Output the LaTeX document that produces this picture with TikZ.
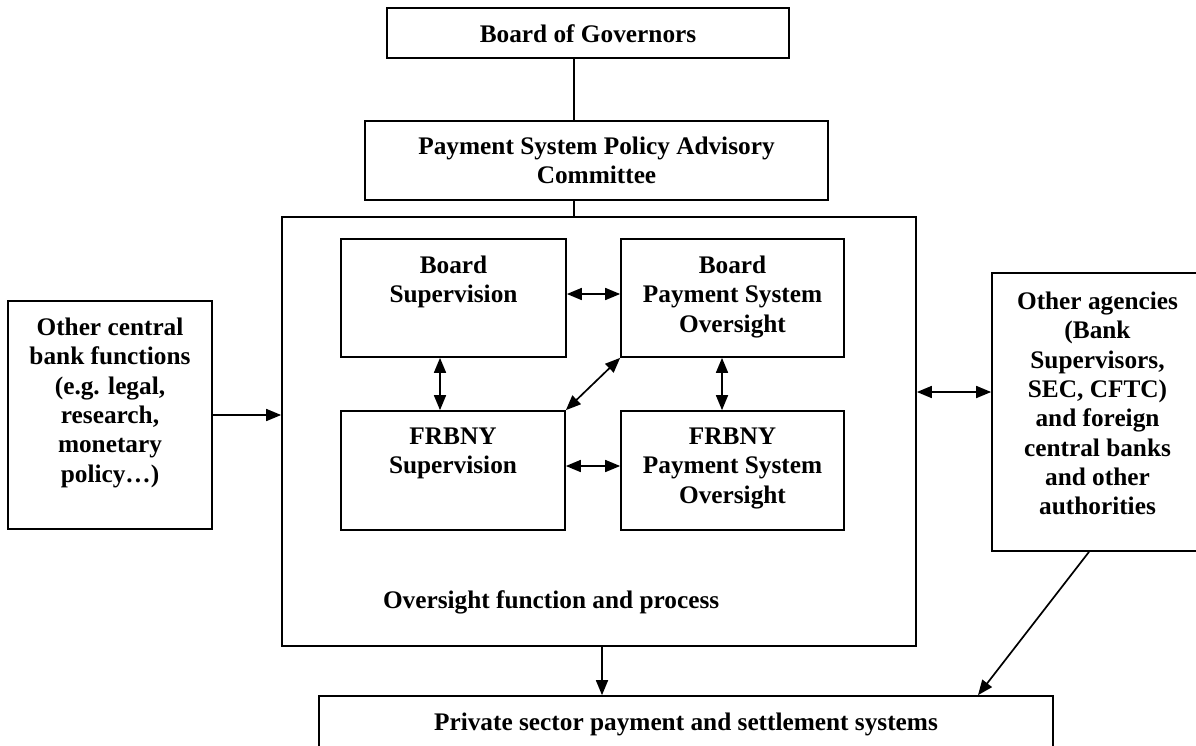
\documentclass[tikz,border=0pt]{standalone}
\usepackage{fontspec}
\setmainfont{Liberation Serif}
\usetikzlibrary{positioning,arrows.meta}

\begin{document}
\begin{tikzpicture}[x=1pt, y=-1pt, line width=1.7pt,
    >={Triangle[length=15pt,width=12pt]},
    box/.style={draw, inner sep=0pt},
    txt/.style={align=center, inner sep=0pt, font=\fontsize{25.3}{29.3}\selectfont\bfseries}]
     \useasboundingbox (0,0) rectangle (1196,745);
     \clip (0,0) rectangle (1196,745);

     \node[box, minimum width=402pt, minimum height=50pt] (gov) at (588,33) {};
     \node[box, minimum width=463pt, minimum height=79pt] (pspac) at (596.5,160.5) {};
     \node[box, minimum width=634pt, minimum height=429pt] (ovs) at (599,431.5) {};
     \node[box, minimum width=225pt, minimum height=118pt] (bsup) at (453.5,298) {};
     \node[box, minimum width=223pt, minimum height=118pt] (bpso) at (732.5,298) {};
     \node[box, minimum width=224pt, minimum height=119pt] (fsup) at (453,470.5) {};
     \node[box, minimum width=223pt, minimum height=119pt] (fpso) at (732.5,470.5) {};
     \node[box, minimum width=204pt, minimum height=228pt] (ocb) at (110,415) {};
     \node[box, minimum width=211pt, minimum height=278pt] (oag) at (1097.5,412) {};
     \node[box, minimum width=734pt, minimum height=80pt] (pss) at (686,736) {};

     \node[txt, below=17pt of gov.north] (govt) {Board of Governors};
     \node[txt, below=16pt of pspac.north] (pspact) {Payment System Policy Advisory\\Committee};
     \node[txt, below=17pt of bsup.north] (bsupt) {Board\\Supervision};
     \node[txt, below=17pt of bpso.north] (bpsot) {Board\\Payment System\\Oversight};
     \node[txt, below=17pt of fsup.north] (fsupt) {FRBNY\\Supervision};
     \node[txt, below=17pt of fpso.north] (fpsot) {FRBNY\\Payment System\\Oversight};
     \node[txt, below=17pt of ocb.north] (ocbt) {Other central\\bank functions\\(e.g. legal,\\research,\\monetary\\policy…)};
     \node[txt, below=19pt of oag.north] (oagt) {Other agencies\\(Bank\\Supervisors,\\SEC, CFTC)\\and foreign\\central banks\\and other\\authorities};
     \node[txt, below=17pt of pss.north] (psst) {Private sector payment and settlement systems};
     \node[txt, anchor=base west] (ovst) at ([shift={(101pt,38pt)}]ovs.south west) {Oversight function and process};

     \coordinate (top) at (574,0);
     \draw[line width=1.3pt] (gov.south -| top) -- (pspac.north -| top);
     \draw[line width=1.3pt] (pspac.south -| top) -- (ovs.north -| top);

     \draw[<->] ([yshift=4pt]bsup.east) -- ([yshift=4pt]bpso.west);
     \draw[<->] ([yshift=4.5pt]fsup.east) -- ([yshift=4.5pt]fpso.west);
     \draw[<->] ([xshift=-13.5pt]bsup.south) -- ([xshift=-13pt]fsup.north);
     \draw[<->] ([xshift=-10.5pt]bpso.south) -- ([xshift=-10.5pt]fpso.north);
     \draw[<->] (bpso.south west) -- (fsup.north east);

     \draw[->] (ocb.east) -- (ocb.east -| ovs.west);
     \coordinate (ag) at ([yshift=20pt]oag.west);
     \draw[<->] (ag -| ovs.east) -- (ag);
     \coordinate (dn) at ([xshift=3pt]ovs.south);
     \draw[->] (dn) -- (dn |- pss.north);
     \draw[->] ([xshift=-8.5pt]oag.south) -- ([xshift=292pt]pss.north);
\end{tikzpicture}
\end{document}
